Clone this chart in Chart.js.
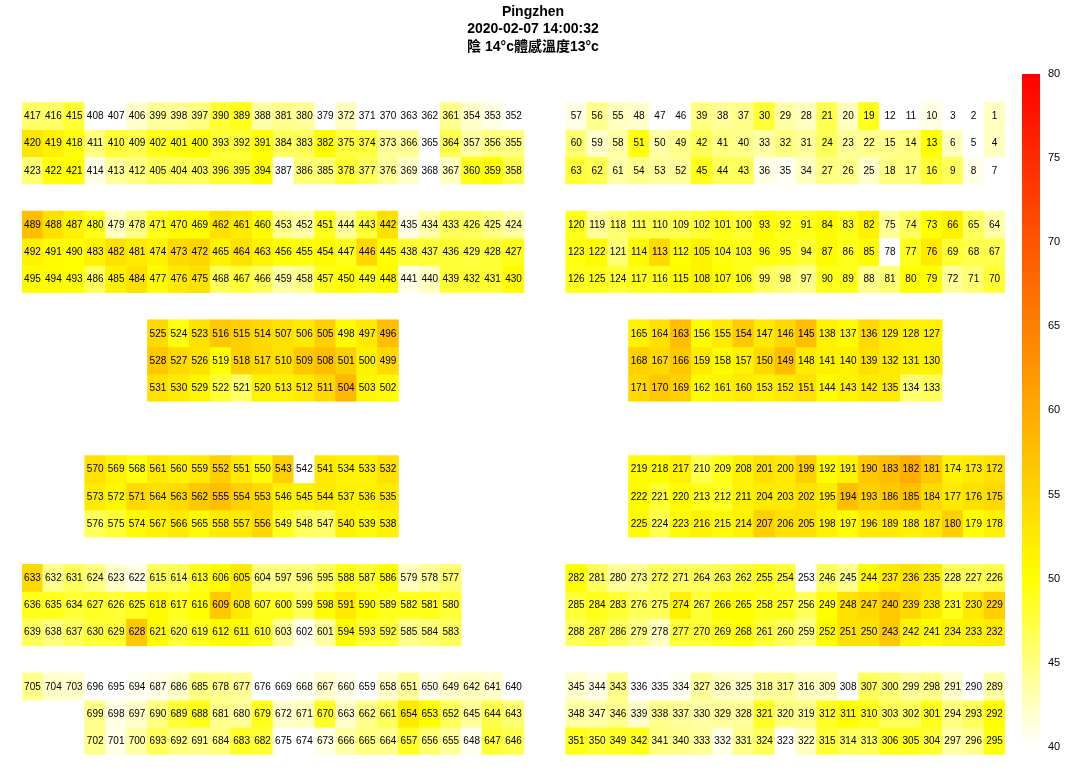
<!DOCTYPE html>
<html><head><meta charset="utf-8">
<script src="https://cdn.jsdelivr.net/npm/chart.js@4"></script>
<style>html,body{margin:0;padding:0;background:#fff;}#wrap{width:1066px;height:780px;}</style>
</head><body><div id="wrap"><canvas id="c" width="1066" height="780"></canvas></div>
<script>
const _ = null;
const titleLines = ['Pingzhen', '2020-02-07 14:00:32', '陰 14°c體感溫度13°c'];
const columns = ['c0','c1','c2','c3','c4','c5','c6','c7','c8','c9','c10','c11','c12','c13','c14','c15','c16','c17','c18','c19','c20','c21','c22','c23','c24','c25','c26','c27','c28','c29','c30','c31','c32','c33','c34','c35','c36','c37','c38','c39','c40','c41','c42','c43','c44','c45','c46'];
const colorTicks = [40, 45, 50, 55, 60, 65, 70, 75, 80];
const colorMin = 40, colorMax = 80;

const seatRows = [
 [417,416,415,408,407,406,399,398,397,390,389,388,381,380,379,372,371,370,363,362,361,354,353,352,_,_,57,56,55,48,47,46,39,38,37,30,29,28,21,20,19,12,11,10,3,2,1],
 [420,419,418,411,410,409,402,401,400,393,392,391,384,383,382,375,374,373,366,365,364,357,356,355,_,_,60,59,58,51,50,49,42,41,40,33,32,31,24,23,22,15,14,13,6,5,4],
 [423,422,421,414,413,412,405,404,403,396,395,394,387,386,385,378,377,376,369,368,367,360,359,358,_,_,63,62,61,54,53,52,45,44,43,36,35,34,27,26,25,18,17,16,9,8,7],
 [],
 [489,488,487,480,479,478,471,470,469,462,461,460,453,452,451,444,443,442,435,434,433,426,425,424,_,_,120,119,118,111,110,109,102,101,100,93,92,91,84,83,82,75,74,73,66,65,64],
 [492,491,490,483,482,481,474,473,472,465,464,463,456,455,454,447,446,445,438,437,436,429,428,427,_,_,123,122,121,114,113,112,105,104,103,96,95,94,87,86,85,78,77,76,69,68,67],
 [495,494,493,486,485,484,477,476,475,468,467,466,459,458,457,450,449,448,441,440,439,432,431,430,_,_,126,125,124,117,116,115,108,107,106,99,98,97,90,89,88,81,80,79,72,71,70],
 [],
 [_,_,_,_,_,_,525,524,523,516,515,514,507,506,505,498,497,496,_,_,_,_,_,_,_,_,_,_,_,165,164,163,156,155,154,147,146,145,138,137,136,129,128,127,_,_,_],
 [_,_,_,_,_,_,528,527,526,519,518,517,510,509,508,501,500,499,_,_,_,_,_,_,_,_,_,_,_,168,167,166,159,158,157,150,149,148,141,140,139,132,131,130,_,_,_],
 [_,_,_,_,_,_,531,530,529,522,521,520,513,512,511,504,503,502,_,_,_,_,_,_,_,_,_,_,_,171,170,169,162,161,160,153,152,151,144,143,142,135,134,133,_,_,_],
 [],
 [],
 [_,_,_,570,569,568,561,560,559,552,551,550,543,542,541,534,533,532,_,_,_,_,_,_,_,_,_,_,_,219,218,217,210,209,208,201,200,199,192,191,190,183,182,181,174,173,172],
 [_,_,_,573,572,571,564,563,562,555,554,553,546,545,544,537,536,535,_,_,_,_,_,_,_,_,_,_,_,222,221,220,213,212,211,204,203,202,195,194,193,186,185,184,177,176,175],
 [_,_,_,576,575,574,567,566,565,558,557,556,549,548,547,540,539,538,_,_,_,_,_,_,_,_,_,_,_,225,224,223,216,215,214,207,206,205,198,197,196,189,188,187,180,179,178],
 [],
 [633,632,631,624,623,622,615,614,613,606,605,604,597,596,595,588,587,586,579,578,577,_,_,_,_,_,282,281,280,273,272,271,264,263,262,255,254,253,246,245,244,237,236,235,228,227,226],
 [636,635,634,627,626,625,618,617,616,609,608,607,600,599,598,591,590,589,582,581,580,_,_,_,_,_,285,284,283,276,275,274,267,266,265,258,257,256,249,248,247,240,239,238,231,230,229],
 [639,638,637,630,629,628,621,620,619,612,611,610,603,602,601,594,593,592,585,584,583,_,_,_,_,_,288,287,286,279,278,277,270,269,268,261,260,259,252,251,250,243,242,241,234,233,232],
 [],
 [705,704,703,696,695,694,687,686,685,678,677,676,669,668,667,660,659,658,651,650,649,642,641,640,_,_,345,344,343,336,335,334,327,326,325,318,317,316,309,308,307,300,299,298,291,290,289],
 [_,_,_,699,698,697,690,689,688,681,680,679,672,671,670,663,662,661,654,653,652,645,644,643,_,_,348,347,346,339,338,337,330,329,328,321,320,319,312,311,310,303,302,301,294,293,292],
 [_,_,_,702,701,700,693,692,691,684,683,682,675,674,673,666,665,664,657,656,655,648,647,646,_,_,351,350,349,342,341,340,333,332,331,324,323,322,315,314,313,306,305,304,297,296,295]
];

const tempRows = [
 [46,46,48,40,40,42,44,44,45,48,49,43.5,44.5,44,40,42.5,40,40,40,40,44.5,42,41,40,_,_,41,44.5,42.5,42,40,40,45,44,44.5,48,43.5,42.5,47,42.5,49,40,40,41,40,40,42.5],
 [53,51.5,49.5,45,48,47,49,49.5,50,48,48,50,46.5,46.5,50.5,47.5,47.5,44,44,40,47,43.5,45,45,_,_,45.5,42,43.5,49.5,43.5,44.5,46.5,45,44.5,43.5,45,44,46.5,44,44.5,44.5,45,50,42.5,40,42.5],
 [45.5,49.5,50,41,44,45,46.5,46.5,46.5,48,48,50,40,45.5,45.5,48,46.5,44,42,40,42.5,49,50,47,_,_,48,47,43.5,44.5,44,44,49,46.5,46.5,41,40.5,42.5,45,44.5,42,45,45,48,46.5,41,40],
 [],
 [57.5,53.5,51.5,49,42.5,45,49,50.5,50.5,53.5,52.5,50.5,44.5,43.5,49,44,48,53.5,41,43.5,46.5,46.5,45,43.5,_,_,49,44,45.5,47,47,47,48,49,48,50.5,49,49,50.5,49,51.5,44,46.5,50,51.5,46.5,43.5],
 [51.5,50.5,50,51.5,53.5,52.5,51.5,54.5,55,51.5,53.5,51.5,50,49.5,50.5,49,54.5,50,48,48,48,47.5,48,49,_,_,49.5,50.5,45.5,50.5,54.5,50,51.5,49.5,49,49.5,49,48,50.5,49,50.5,40,49,52.5,48,47,47],
 [50.5,50.5,50,46.5,51.5,53.5,50.5,52.5,53.5,46.5,48,46.5,43.5,44.5,49,50,49,50.5,41,42.5,48,48,48,50.5,_,_,49,49,48,49,49,50.5,51.5,50,49,46.5,45.5,44.5,49,49,44.5,45.5,50,50,44,45.5,48],
 [],
 [_,_,_,_,_,_,54.5,49.5,53.5,56.5,55.5,54.5,53.5,52.5,55.5,50.5,52.5,57.5,_,_,_,_,_,_,_,_,_,_,_,51.5,53.5,57.5,50.5,52.5,56.5,52.5,54.5,57.5,51.5,50.5,54.5,52.5,51.5,51.5,_,_,_],
 [_,_,_,_,_,_,56.5,54.5,53.5,50,55.5,54.5,53.5,56.5,57.5,55.5,51.5,54.5,_,_,_,_,_,_,_,_,_,_,_,55.5,54.5,56.5,52.5,50.5,51.5,54.5,57.5,52.5,51.5,51.5,53.5,52.5,51.5,51.5,_,_,_],
 [_,_,_,_,_,_,53.5,52.5,51,48,46,51.5,51.5,52.5,54.5,58.5,51,50.5,_,_,_,_,_,_,_,_,_,_,_,54.5,56.5,55.5,50.5,51.5,52.5,51.5,52.5,53.5,50.5,51.5,52.5,52.5,45.5,46.5,_,_,_],
 [],
 [],
 [_,_,_,53.5,51.5,49.5,52.5,51.5,52.5,55.5,52.5,50.5,55.5,40,52.5,51.5,51.5,53.5,_,_,_,_,_,_,_,_,_,_,_,50.5,50.5,51.5,47,49,51.5,53.5,52.5,55.5,50.5,51.5,56.5,57.5,59.5,56.5,51.5,52.5,53.5],
 [_,_,_,52.5,51,54.5,53.5,54.5,56.5,57.5,55.5,54.5,51.5,51.5,52.5,51.5,51.5,52.5,_,_,_,_,_,_,_,_,_,_,_,50.5,48,50.5,49,48.5,51.5,52.5,52.5,53.5,52.5,57.5,55.5,56.5,57.5,54.5,52.5,53.5,54.5],
 [_,_,_,46.5,48,50.5,51.5,52.5,50.5,52.5,52.5,54.5,49,46.5,46,51.5,50.5,51.5,_,_,_,_,_,_,_,_,_,_,_,50.5,47,50.5,51.5,50.5,51.5,55.5,53.5,53.5,51.5,50,52.5,52.5,51.5,52.5,55.5,50,51.5],
 [],
 [54.5,44.5,46.5,45,42,41,46.5,46.5,49,50.5,52.5,45,45,45,46.5,49,48,50,42.5,44,45.5,_,_,_,_,_,50,46.5,44,44.5,46.5,46.5,46.5,47,48,49,48,40,46.5,44.5,50.5,52.5,53.5,52.5,46.5,46.5,47],
 [49,49,48,48.5,48,49,50.5,49,50,56.5,52.5,49,49,46.5,50.5,52.5,50,49,49,49,48,_,_,_,_,_,48,49,48,46.5,46.5,51.5,48,50,50,49,49,46.5,50,53.5,54.5,56.5,54.5,52.5,49,52.5,55.5],
 [46.5,45,46.5,48,48,56.5,50.5,48,49,50.5,50.5,49,44,40.5,43.5,50.5,48,48,44.5,45.5,46.5,_,_,_,_,_,46.5,48,46.5,45,42.5,48,48,49,50,48,46.5,45,50.5,53.5,53.5,56.5,51.5,50.5,51.5,51.5,52.5],
 [],
 [44.5,42,42,40,40,40.5,41,42,45,44.5,44,40,40,40.5,42,41,40,42,44,41,42,42.5,42,40,_,_,42,41,44.5,40,40,40.5,44,42.5,42,44,44,42.5,42.5,40,46.5,45.5,44,44.5,42,40,43.5],
 [_,_,_,44.5,41,42,45,48,49,44.5,44,49,42,42.5,48.5,42,44.5,46.5,52.5,50,46.5,44,47,45.5,_,_,43.5,43.5,44.5,42,44.5,44,43.5,44,44,48.5,45,44.5,48.5,50,49,46.5,46.5,49,45,46.5,50],
 [_,_,_,44.5,41,43.5,46.5,45,44.5,45,48.5,48,40,40,41,43.5,45,44.5,48.5,45.5,44,40.5,48,47,_,_,49,48,48.5,49,45,44.5,44,41,44.5,46.5,40,42.5,48,46.5,46.5,49,49,48,43.5,44.5,49.5]
];

function heatColor(t) {
  if (t <= 50) {
    const b = Math.max(0, Math.min(255, Math.round(255 * (50 - t) / 10)));
    return 'rgb(255,255,' + b + ')';
  }
  const g = Math.max(0, Math.min(255, Math.round(255 * (80 - t) / 30)));
  return 'rgb(255,' + g + ',0)';
}

const datasets = [];
seatRows.forEach((row, r) => {
  if (!row.length) return;
  datasets.push({
    label: 'row ' + r,
    data: columns.map((c, i) => row[i] == null ? null : [r - 0.5, r + 0.5]),
    backgroundColor: columns.map((c, i) => row[i] == null ? 'rgba(0,0,0,0)' : heatColor(tempRows[r][i])),
    seatLabels: row,
    grouped: false,
    categoryPercentage: 1,
    barPercentage: 1,
    borderWidth: 0,
    borderSkipped: false
  });
});

const cellLabels = {
  id: 'cellLabels',
  afterDatasetsDraw(chart) {
    const ctx = chart.ctx;
    ctx.save();
    ctx.font = '10px "Liberation Sans", Arial, sans-serif';
    ctx.fillStyle = '#000';
    ctx.textAlign = 'center';
    ctx.textBaseline = 'middle';
    chart.data.datasets.forEach((ds, i) => {
      const meta = chart.getDatasetMeta(i);
      meta.data.forEach((el, j) => {
        const s = ds.seatLabels[j];
        if (s == null) return;
        const p = el.getProps(['x', 'y', 'base'], true);
        ctx.fillText(String(s), p.x, (p.y + p.base) / 2 + 0.5);
      });
    });
    ctx.restore();
  }
};

const colorBar = {
  id: 'colorBar',
  beforeDatasetsDraw(chart) {
    const s = chart.scales.cb;
    const ctx = chart.ctx;
    const top = s.getPixelForValue(colorMax);
    const bot = s.getPixelForValue(colorMin);
    const x0 = s.left + 17;
    const g = ctx.createLinearGradient(0, bot, 0, top);
    g.addColorStop(0, heatColor(colorMin));
    g.addColorStop((50 - colorMin) / (colorMax - colorMin), heatColor(50));
    g.addColorStop(1, heatColor(colorMax));
    ctx.save();
    ctx.fillStyle = g;
    ctx.fillRect(x0, top, 18, bot - top);
    ctx.restore();
  }
};

new Chart(document.getElementById('c'), {
  type: 'bar',
  data: { labels: columns, datasets },
  options: {
    responsive: false,
    animation: false,
    layout: { padding: { left: 0, right: 0, top: 0, bottom: 25 } },
    plugins: {
      legend: { display: false },
      tooltip: { enabled: false },
      title: {
        display: true,
        text: titleLines,
        color: '#000',
        font: { family: '"Liberation Sans", Arial, "Noto Sans CJK TC", sans-serif', size: 14, weight: 'bold', lineHeight: 1.25 },
        padding: { top: 3, bottom: 17.5 }
      }
    },
    scales: {
      x: { type: 'category', display: false, offset: true, grid: { display: false } },
      y: {
        type: 'linear', reverse: true, min: -1.583, max: 23.52,
        display: true,
        grid: { display: false, drawTicks: false },
        border: { display: false },
        ticks: { display: false },
        afterFit(s) { s.width = 22; s.paddingTop = 0; s.paddingBottom = 0; }
      },
      cb: {
        type: 'linear', position: 'right', min: 39.52, max: 80.06,
        grid: { display: false, drawTicks: false },
        border: { display: false },
        ticks: { padding: 43, color: '#000', font: { family: '"Liberation Sans", Arial, sans-serif', size: 11 } },
        afterBuildTicks(s) { s.ticks = colorTicks.map(v => ({ value: v })); },
        afterFit(s) { s.width = 61; s.paddingTop = 0; s.paddingBottom = 0; }
      }
    }
  },
  plugins: [colorBar, cellLabels]
});
</script>
</body></html>
